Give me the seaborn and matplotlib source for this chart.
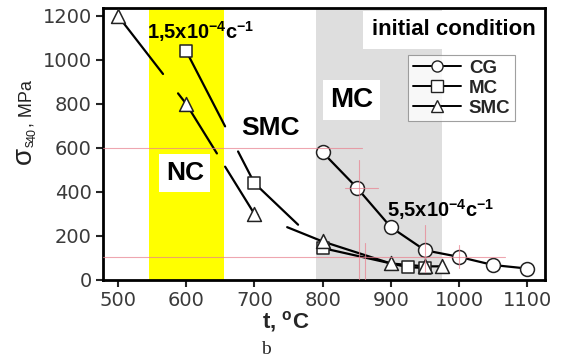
import numpy as np
import matplotlib
matplotlib.use("Agg")
import matplotlib.pyplot as plt
import seaborn as sns
import pandas as pd
from matplotlib.lines import Line2D

# measured points
cg_t = [800, 850, 900, 950, 1000, 1050, 1100]
cg_s = [580, 420, 240, 135, 105, 68, 52]
mc_t = [600, 700, 800, 925, 950]
mc_s = [1040, 440, 145, 58, 55]
smc_t = [500, 600, 700, 800, 900, 950, 975]
smc_s = [1200, 800, 300, 175, 75, 62, 62]

# breaks in the drawn lines (t ranges where the line is not drawn)
smc_gaps = [(566, 588), (645, 657), (705, 748)]
mc_gaps = [(657, 676), (764, 797)]
cg_gaps = []

# thin red guide lines: (level, start, end)
guide_h = [(600, 478, 858), (103, 478, 1068), (418, 833, 881)]
guide_v = [(853, 0, 545), (862, 0, 168), (950, 35, 250), (1000, 55, 160)]

nc_band = (545, 655)
mc_band = (790, 975)

sns.set_style("ticks")
plt.rcParams["font.family"] = ["Liberation Sans", "DejaVu Sans"]
plt.rcParams["mathtext.fontset"] = "custom"
plt.rcParams["mathtext.rm"] = "Liberation Sans"
plt.rcParams["mathtext.bf"] = "Liberation Sans:bold"
plt.rcParams["mathtext.it"] = "Liberation Sans:italic"


def broken_line(t, s, gaps):
    t = np.asarray(t, float)
    s = np.asarray(s, float)
    xs, ys = list(t), list(s)
    for a, b in gaps:
        xs += [a, (a + b) / 2, b]
        ys += [np.interp(a, t, s), np.nan, np.interp(b, t, s)]
    order = np.argsort(xs, kind="stable")
    return np.array(xs)[order], np.array(ys)[order]


fig = plt.figure(figsize=(5.61, 3.57), dpi=100)
ax = fig.add_axes([0.1836, 0.2157, 0.7879, 0.762])

ax.axvspan(*nc_band, color="#ffff00", lw=0, zorder=0)
ax.axvspan(*mc_band, color="#dedede", lw=0, zorder=0)

series = [
    ("CG", cg_t, cg_s, cg_gaps, "o", 10),
    ("MC", mc_t, mc_s, mc_gaps, "s", 9),
    ("SMC", smc_t, smc_s, smc_gaps, "^", 10),
]
handles = []
for name, t, s, gaps, mk, ms in series:
    x, y = broken_line(t, s, gaps)
    ax.plot(x, y, color="black", lw=1.6, zorder=3)
    df = pd.DataFrame({"t": t, "s": s})
    sns.scatterplot(data=df, x="t", y="s", marker=mk, s=ms ** 2,
                    facecolor="white", edgecolor="#222222", linewidth=1.1,
                    ax=ax, zorder=4)
    handles.append(Line2D([], [], color="black", lw=1.4, marker=mk, ms=8,
                          mfc="white", mec="#222222", mew=1.0, label=name))

for lev, a, b in guide_h:
    ax.plot([a, b], [lev, lev], color="#e8808f", lw=0.8, alpha=0.7, zorder=5)
for lev, a, b in guide_v:
    ax.plot([lev, lev], [a, b], color="#e8808f", lw=0.8, alpha=0.7, zorder=5)

ax.set_xlim(478, 1126)
ax.set_ylim(0, 1236)
ax.set_xticks([500, 600, 700, 800, 900, 1000, 1100])
ax.set_yticks([0, 200, 400, 600, 800, 1000, 1200])
for lab in ax.get_xticklabels() + ax.get_yticklabels():
    lab.set_family("DejaVu Sans")
ax.tick_params(labelsize=14, labelcolor="#3a3a3a", width=1.5, length=5,
               direction="out", pad=3)
for sp in ax.spines.values():
    sp.set_visible(True)
    sp.set_linewidth(2)
    sp.set_color("black")

ax.set_xlabel(r"t, $^{\mathbf{o}}$C", fontsize=16, fontweight="bold", va="center")
ax.xaxis.set_label_coords(0.414, -0.154)

# y label: large sigma, small subscript, then unit
ylab = dict(rotation=90, ha="center", color="#222222")
fig.text(24 / 561, 1 - 155 / 357, "σ", fontsize=20, va="center", **ylab)
fig.text(33 / 561, 1 - 142 / 357, "40", fontsize=9, va="bottom", **ylab)
fig.text(27 / 561, 1 - 127 / 357, ", MPa", fontsize=13, va="bottom", **ylab)

bold = dict(fontweight="bold", color="black", zorder=6)
ax.text(542, 1127, r"1,5x10$^{\mathbf{-4}}$c$^{\mathbf{-1}}$", fontsize=14.5,
        ha="left", va="center", **bold)
ax.text(895, 318, r"5,5x10$^{\mathbf{-4}}$c$^{\mathbf{-1}}$", fontsize=14.5,
        ha="left", va="center", **bold)
box = dict(boxstyle="square,pad=0.25", fc="white", ec="none")
ax.text(723, 690, "SMC", fontsize=19, ha="center", va="center", **bold)
ax.text(598, 486, "NC", fontsize=19, ha="center", va="center", bbox=box, **bold)
ax.text(843, 818, "MC", fontsize=20, ha="center", va="center", bbox=box, **bold)
ax.text(872, 1136, "initial condition", fontsize=16, ha="left", va="center",
        bbox=dict(boxstyle="square,pad=0.4", fc="white", ec="none"), **bold)

leg = ax.legend(handles=handles, loc="upper left", bbox_to_anchor=(0.69, 0.827),
                borderaxespad=0, fancybox=False, frameon=True, handlelength=2.6,
                handletextpad=0.4, labelspacing=0.15, borderpad=0.25,
                prop={"weight": "bold", "size": 13.5})
leg.get_frame().set_edgecolor("#888888")
leg.get_frame().set_linewidth(0.8)
leg.set_zorder(7)

fig.text(0.474, 0.022, "b", family="Liberation Serif", fontsize=14,
         ha="center", va="center")

fig.savefig("out.png", dpi=100)
